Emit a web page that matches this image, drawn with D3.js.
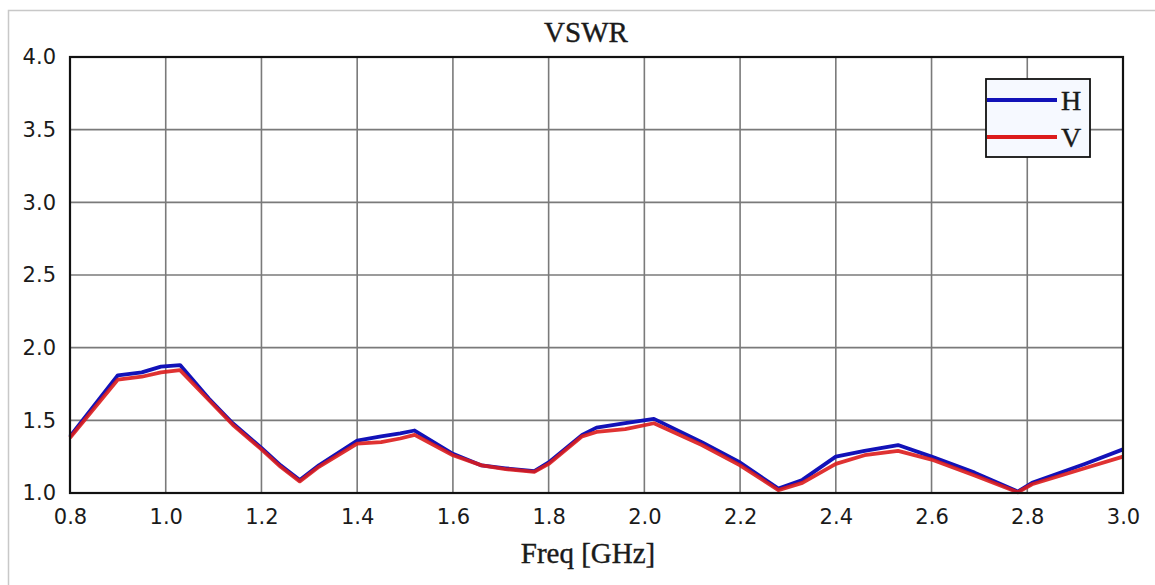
<!DOCTYPE html>
<html>
<head>
<meta charset="utf-8">
<script src="https://cdn.jsdelivr.net/npm/d3@7"></script>
<style>
  html, body { margin: 0; padding: 0; background: #fff; }
  svg { display: block; }
</style>
</head>
<body>
<svg id="chart" width="1155" height="585"></svg>
<script>
// ---- data ----
const freq = [0.80, 0.90, 0.95, 0.99, 1.03, 1.09, 1.14, 1.20, 1.24, 1.28, 1.32, 1.40, 1.45, 1.49, 1.52, 1.60, 1.66, 1.71, 1.77, 1.80, 1.87, 1.90, 1.96, 2.02, 2.12, 2.20, 2.28, 2.33, 2.40, 2.46, 2.53, 2.60, 2.69, 2.78, 2.81, 2.92, 3.00];
const vswrH = [1.39, 1.81, 1.83, 1.87, 1.88, 1.65, 1.48, 1.31, 1.19, 1.09, 1.19, 1.36, 1.39, 1.41, 1.43, 1.27, 1.19, 1.17, 1.15, 1.21, 1.40, 1.45, 1.48, 1.51, 1.35, 1.21, 1.03, 1.09, 1.25, 1.29, 1.33, 1.25, 1.14, 1.01, 1.07, 1.20, 1.30];
const vswrV = [1.38, 1.78, 1.80, 1.83, 1.845, 1.64, 1.47, 1.30, 1.18, 1.08, 1.18, 1.34, 1.35, 1.375, 1.40, 1.26, 1.19, 1.165, 1.145, 1.20, 1.39, 1.42, 1.44, 1.48, 1.33, 1.19, 1.02, 1.07, 1.20, 1.26, 1.29, 1.23, 1.12, 1.005, 1.06, 1.17, 1.25];
const xTicks = [0.8, 1.0, 1.2, 1.4, 1.6, 1.8, 2.0, 2.2, 2.4, 2.6, 2.8, 3.0];
const yTicks = [1.0, 1.5, 2.0, 2.5, 3.0, 3.5, 4.0];
const seriesNames = ["H", "V"];
const seriesColors = ["#1212b8", "#dc1c1c"];
const title = "VSWR";
const xTitle = "Freq [GHz]";

// ---- layout ----
const svg = d3.select("#chart");
const L = 70, R = 1123, T = 57, B = 493;
const x = d3.scaleLinear().domain([0.8, 3.0]).range([L, R]);
const y = d3.scaleLinear().domain([1.0, 4.0]).range([B, T]);

// outer light frame
svg.append("rect").attr("x", 8.5).attr("y", 10.5).attr("width", 1160).attr("height", 590)
  .attr("fill", "none").attr("stroke", "#c8c8c8").attr("stroke-width", 1.5);

// grid
const grid = svg.append("g");
grid.selectAll("line.v").data(xTicks).join("line")
  .attr("x1", d => x(d)).attr("x2", d => x(d)).attr("y1", T).attr("y2", B)
  .attr("stroke", "#7a7a7a").attr("stroke-width", 1.6);
grid.selectAll("line.h").data(yTicks).join("line")
  .attr("x1", L).attr("x2", R).attr("y1", d => y(d)).attr("y2", d => y(d))
  .attr("stroke", "#7a7a7a").attr("stroke-width", 1.6);

// axes (labels only)
const xAxis = d3.axisBottom(x).tickValues(xTicks).tickFormat(d3.format(".1f")).tickSize(0).tickPadding(16);
const yAxis = d3.axisLeft(y).tickValues(yTicks).tickFormat(d3.format(".1f")).tickSize(0).tickPadding(14);
const gx = svg.append("g").attr("transform", `translate(0,${B})`).call(xAxis);
const gy = svg.append("g").attr("transform", `translate(${L},0)`).call(yAxis);
[gx, gy].forEach(g => {
  g.select(".domain").remove();
  g.selectAll("text").attr("font-family", "DejaVu Sans, sans-serif").attr("font-size", 21).attr("fill", "#1a1a1a");
});
gy.selectAll("text").attr("dy", "0.32em");

// lines
const line = d3.line().x((d, i) => x(freq[i])).y(d => y(d));
[vswrH, vswrV].forEach((s, k) => {
  svg.append("path").datum(s).attr("d", line)
    .attr("fill", "none").attr("stroke", seriesColors[k]).attr("stroke-width", 3.8)
    .attr("stroke-linejoin", "round").attr("opacity", k === 1 ? 0.9 : 1);
});

// plot frame
svg.append("rect").attr("x", L).attr("y", T).attr("width", R - L).attr("height", B - T)
  .attr("fill", "none").attr("stroke", "#111").attr("stroke-width", 2.2);

// titles
svg.append("text").attr("x", 586).attr("y", 42).attr("text-anchor", "middle")
  .attr("font-family", "Liberation Serif, serif").attr("font-size", 29).attr("fill", "#1a1a1a")
  .attr("stroke", "#1a1a1a").attr("stroke-width", 0.4).text(title);
svg.append("text").attr("x", 588).attr("y", 563).attr("text-anchor", "middle")
  .attr("font-family", "Liberation Serif, serif").attr("font-size", 29).attr("fill", "#1a1a1a")
  .attr("stroke", "#1a1a1a").attr("stroke-width", 0.4).text(xTitle);

// legend
const lg = svg.append("g");
lg.append("rect").attr("x", 986).attr("y", 79).attr("width", 104).attr("height", 78)
  .attr("fill", "#f6f9ff").attr("stroke", "#111").attr("stroke-width", 1.8);
seriesNames.forEach((n, k) => {
  const yy = 100 + k * 37;
  lg.append("line").attr("x1", 987).attr("x2", 1057).attr("y1", yy).attr("y2", yy)
    .attr("stroke", seriesColors[k]).attr("stroke-width", 3.8);
  lg.append("text").attr("x", 1061).attr("y", yy + 10)
    .attr("font-family", "Liberation Serif, serif").attr("font-size", 28).attr("fill", "#1a1a1a")
    .attr("stroke", "#1a1a1a").attr("stroke-width", 0.4).text(n);
});
</script>
</body>
</html>
